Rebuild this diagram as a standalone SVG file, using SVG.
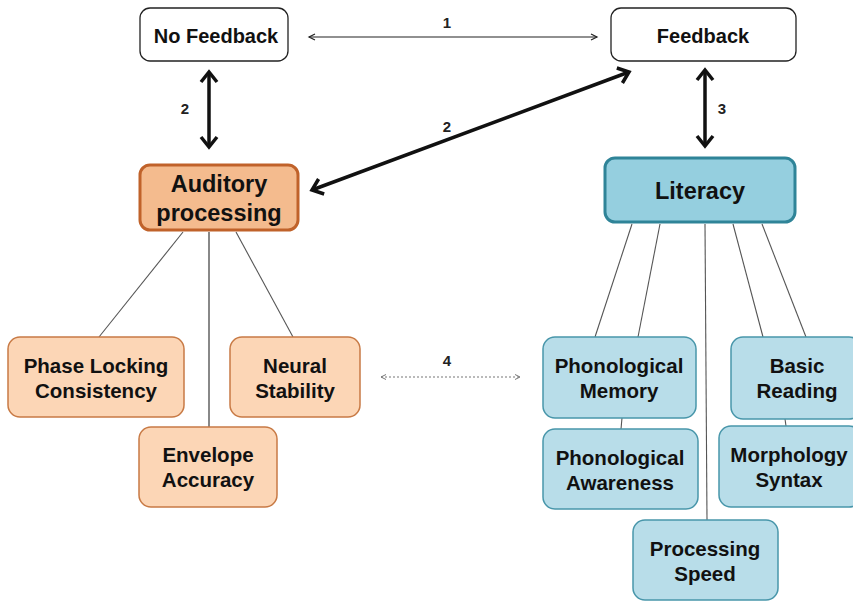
<svg xmlns="http://www.w3.org/2000/svg" width="853" height="602" viewBox="0 0 853 602">
<defs>
<style>
.t{font-family:"Liberation Sans",Arial,sans-serif;font-weight:bold;fill:#111;text-anchor:middle}
.top{fill:#fff;stroke:#222;stroke-width:1.3}
.ap{fill:#f4bb8e;stroke:#c0622a;stroke-width:3}
.ac{fill:#fcd6b6;stroke:#c87a45;stroke-width:1.5}
.lp{fill:#95cfdf;stroke:#2f8498;stroke-width:3}
.lc{fill:#b8dde9;stroke:#4896aa;stroke-width:1.5}
.ln{stroke:#555;stroke-width:1.1;fill:none}
.thick{stroke:#111;stroke-width:3.5;fill:none}
.thin{stroke:#222;stroke-width:1.2;fill:none}
.dot{stroke:#777;stroke-width:1.2;stroke-dasharray:2 2;fill:none}
.lbl{font-family:"Liberation Sans",Arial,sans-serif;font-weight:bold;fill:#222;text-anchor:middle;font-size:15px}
.c{font-size:20.5px}
</style>
<marker id="hk" markerUnits="userSpaceOnUse" markerWidth="20" markerHeight="20" refX="13" refY="10" orient="auto-start-reverse" viewBox="0 0 20 20">
<path d="M3,2 L13,10 L3,18" fill="none" stroke="#111" stroke-width="3.5" stroke-linejoin="miter"/>
</marker>
<marker id="ht" markerUnits="userSpaceOnUse" markerWidth="12" markerHeight="12" refX="9" refY="6" orient="auto-start-reverse" viewBox="0 0 12 12">
<path d="M3,3 L9,6 L3,9" fill="none" stroke="#222" stroke-width="1.2"/>
</marker>
<marker id="hd" markerUnits="userSpaceOnUse" markerWidth="10" markerHeight="10" refX="8" refY="5" orient="auto-start-reverse" viewBox="0 0 10 10">
<path d="M3,2.5 L8,5 L3,7.5" fill="none" stroke="#777" stroke-width="1"/>
</marker>
</defs>
<rect width="853" height="602" fill="#fff"/>

<g id="connectors">
<line class="thin" x1="309" y1="37" x2="597" y2="37" marker-start="url(#ht)" marker-end="url(#ht)"/>
<line class="thick" x1="209" y1="72" x2="209" y2="147" marker-start="url(#hk)" marker-end="url(#hk)"/>
<line class="thick" x1="312" y1="190" x2="629" y2="72" marker-start="url(#hk)" marker-end="url(#hk)"/>
<line class="thick" x1="705" y1="70" x2="705" y2="146" marker-start="url(#hk)" marker-end="url(#hk)"/>
<line class="dot" x1="381" y1="377" x2="520" y2="377" marker-start="url(#hd)" marker-end="url(#hd)"/>
<line class="ln" x1="183" y1="232" x2="99" y2="337"/>
<line x1="209" y1="232" x2="209" y2="427" stroke="#888" stroke-width="2"/>
<line class="ln" x1="236" y1="232" x2="293" y2="337"/>
<line class="ln" x1="632" y1="224" x2="595" y2="337"/>
<line class="ln" x1="660" y1="224" x2="638" y2="337"/>
<line class="ln" x1="705" y1="224" x2="707" y2="520"/>
<line class="ln" x1="733" y1="224" x2="763" y2="337"/>
<line class="ln" x1="762" y1="224" x2="806" y2="337"/>
<line class="ln" x1="622" y1="418" x2="621" y2="429"/>
<line class="ln" x1="785" y1="419" x2="786" y2="426"/>
<text class="lbl" x="447" y="28">1</text>
<text class="lbl" x="185" y="114">2</text>
<text class="lbl" x="447" y="132">2</text>
<text class="lbl" x="722" y="114">3</text>
<text class="lbl" x="447" y="366">4</text>
</g>

<g id="no-feedback">
<rect class="top" x="140" y="8" width="148" height="53" rx="10"/>
<text class="t" x="216" y="43" font-size="20">No Feedback</text>
</g>
<g id="feedback">
<rect class="top" x="611" y="8" width="185" height="53" rx="10"/>
<text class="t" x="703" y="43" font-size="20">Feedback</text>
</g>

<g id="auditory-processing">
<rect class="ap" x="140" y="165" width="158" height="65" rx="10"/>
<text class="t" x="219" y="192" font-size="23.5">Auditory</text>
<text class="t" x="219" y="221" font-size="23.5">processing</text>
</g>
<g id="phase-locking">
<rect class="ac" x="8" y="337" width="176" height="80" rx="12"/>
<text class="t c" x="96" y="373">Phase Locking</text>
<text class="t c" x="96" y="398">Consistency</text>
</g>
<g id="neural-stability">
<rect class="ac" x="230" y="337" width="130" height="80" rx="12"/>
<text class="t c" x="295" y="373">Neural</text>
<text class="t c" x="295" y="398">Stability</text>
</g>
<g id="envelope-accuracy">
<rect class="ac" x="139" y="427" width="138" height="80" rx="12"/>
<text class="t c" x="208" y="462">Envelope</text>
<text class="t c" x="208" y="487">Accuracy</text>
</g>

<g id="literacy">
<rect class="lp" x="605" y="158" width="190" height="64" rx="10"/>
<text class="t" x="700" y="199" font-size="23.5">Literacy</text>
</g>
<g id="phonological-memory">
<rect class="lc" x="543" y="337" width="153" height="81" rx="12"/>
<text class="t c" x="619" y="373">Phonological</text>
<text class="t c" x="619" y="398">Memory</text>
</g>
<g id="phonological-awareness">
<rect class="lc" x="543" y="429" width="155" height="80" rx="12"/>
<text class="t c" x="620" y="465">Phonological</text>
<text class="t c" x="620" y="490">Awareness</text>
</g>
<g id="basic-reading">
<rect class="lc" x="731" y="337" width="130" height="82" rx="12"/>
<text class="t c" x="797" y="373">Basic</text>
<text class="t c" x="797" y="398">Reading</text>
</g>
<g id="morphology-syntax">
<rect class="lc" x="719" y="426" width="142" height="81" rx="12"/>
<text class="t c" x="789" y="462">Morphology</text>
<text class="t c" x="789" y="487">Syntax</text>
</g>
<g id="processing-speed">
<rect class="lc" x="633" y="520" width="145" height="80" rx="12"/>
<text class="t c" x="705" y="556">Processing</text>
<text class="t c" x="705" y="581">Speed</text>
</g>
</svg>
